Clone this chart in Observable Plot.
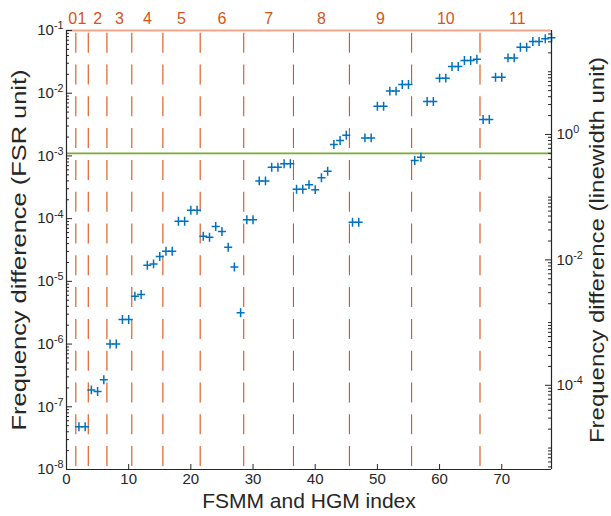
<!DOCTYPE html>
<html><head><meta charset="utf-8">
<script src="https://cdn.jsdelivr.net/npm/d3@7"></script>
<script src="https://cdn.jsdelivr.net/npm/@observablehq/plot@0.6"></script>
<style>
body{margin:0;background:#fff}
#chart svg{font-family:"Liberation Sans",Arial,Helvetica,sans-serif;overflow:visible}
</style>
</head><body><div id="chart"></div>
<script>
// ---- data ----
const modeIndex = [2,3,4,5,6,7,8,9,10,11,12,13,14,15,16,17,18,19,20,21,22,23,24,25,26,27,28,29,30,31,32,33,34,35,36,37,38,39,40,41,42,43,44,45,46,47,48,49,50,51,52,53,54,55,56,57,58,59,60,61,62,63,64,65,66,67,68,69,70,71,72,73,74,75,76,77,78];
const fsrDiff = [
  4.8e-8, 4.8e-8,
  1.86e-7, 1.75e-7, 2.69e-7,
  1.0e-6, 1.0e-6, 2.46e-6, 2.46e-6,
  5.8e-6, 6.17e-6, 1.81e-5, 1.9e-5, 2.49e-5,
  3.03e-5, 3.03e-5, 9.1e-5, 9.1e-5, 1.36e-4, 1.36e-4,
  5.25e-5, 5.06e-5, 7.48e-5, 6.24e-5, 3.51e-5, 1.70e-5, 3.15e-6,
  9.57e-5, 9.57e-5, 4.0e-4, 4.0e-4, 6.6e-4, 6.6e-4, 7.48e-4, 7.48e-4,
  2.94e-4, 2.94e-4, 3.46e-4, 2.9e-4, 4.48e-4, 5.7e-4, 1.52e-3, 1.76e-3, 2.14e-3,
  8.77e-5, 8.77e-5, 1.94e-3, 1.94e-3, 6.2e-3, 6.2e-3, 1.08e-2, 1.08e-2, 1.38e-2, 1.38e-2,
  8.45e-4, 9.55e-4, 7.38e-3, 7.38e-3, 1.74e-2, 1.74e-2, 2.67e-2, 2.67e-2, 3.33e-2, 3.33e-2, 3.48e-2,
  3.81e-3, 3.81e-3, 1.80e-2, 1.80e-2, 3.66e-2, 3.66e-2, 5.42e-2, 5.42e-2, 6.68e-2, 6.68e-2, 7.36e-2, 7.64e-2
];
const groupLabels = ["0","1","2","3","4","5","6","7","8","9","10","11"];
const groupCenters = [1, 2.5, 5, 8.5, 13, 18.5, 25, 32.5, 41, 50.5, 61, 72.5];
const groupBoundaries = [1.5, 3.5, 6.5, 10.5, 15.5, 21.5, 28.5, 36.5, 45.5, 55.5, 66.5];
const xTicks = [0, 10, 20, 30, 40, 50, 60, 70];
const leftTickExps = [-1, -2, -3, -4, -5, -6, -7, -8];
const rightLabelExps = [0, -2, -4];
const linewidthInFSR = 2.2e-3;     // 1 linewidth expressed in FSR units
const thresholdLinewidth = 0.5;    // green line, in linewidth units
const xDomain = [0, 78];
const yDomain = [1e-8, 1e-1];

// ---- layout ----
const W = 611, H = 516, mL = 66, mR = 60, mT = 30, mB = 47;
const fW = W - mL - mR, fH = H - mT - mB;
const blue = "#0072BD", orange = "#D95319", green = "#77AC30", ink = "#262626";

const points = modeIndex.map((x, i) => ({x, y: fsrDiff[i]}));
const leftMajor = leftTickExps.map(e => Math.pow(10, e));
const leftMinor = [];
for (let e = -8; e < -1; e++) for (let m = 2; m <= 9; m++) leftMinor.push(m * Math.pow(10, e));
const rightMajor = [], rightMinor = [];
for (let e = -6; e <= 1; e++) {
  const v = Math.pow(10, e) * linewidthInFSR;
  if (e % 2 === 0) rightMajor.push(v); else rightMinor.push(v);
  for (let m = 2; m <= 9; m++) rightMinor.push(m * Math.pow(10, e) * linewidthInFSR);
}
const inY = v => v >= yDomain[0] * 0.9999 && v <= yDomain[1] * 1.0001;

// MATLAB-like "+" marker
const plusSymbol = {
  draw(ctx, size) {
    const r = Math.sqrt(size / Math.PI);
    ctx.moveTo(-r, 0); ctx.lineTo(r, 0);
    ctx.moveTo(0, -r * 1.12); ctx.lineTo(0, r * 1.12);
  }
};

const chart = Plot.plot({
  width: W, height: H,
  marginLeft: mL, marginRight: mR, marginTop: mT, marginBottom: mB,
  x: {domain: xDomain, axis: null},
  y: {type: "log", domain: yDomain, axis: null},
  marks: [
    Plot.ruleX(groupBoundaries, {x: d => d, stroke: orange, strokeWidth: 1.1, strokeDasharray: "20,11.8", strokeDashoffset: 29.1}),
    Plot.ruleY([thresholdLinewidth * linewidthInFSR], {y: d => d, stroke: green, strokeWidth: 1.6}),
    Plot.dot(points, {x: "x", y: "y", symbol: plusSymbol, r: 4, fill: "none", stroke: blue, strokeWidth: 1.5}),
    // frame
    Plot.ruleY([yDomain[1]], {y: d => d, stroke: "#F2A78C", strokeWidth: 1.8}),
    Plot.ruleX([xDomain[0]], {x: d => d, stroke: ink, strokeWidth: 1.2}),
    Plot.ruleX([xDomain[1]], {x: d => d, stroke: ink, strokeWidth: 1.2}),
    Plot.ruleY([yDomain[0]], {y: d => d, stroke: ink, strokeWidth: 1.2}),
    // left ticks (inward)
    Plot.tickY(leftMajor, {y: d => d, stroke: ink, insetRight: fW - 6}),
    Plot.tickY(leftMinor, {y: d => d, stroke: ink, insetRight: fW - 3}),
    // right ticks (inward)
    Plot.tickY(rightMajor.filter(inY), {y: d => d, stroke: ink, insetLeft: fW - 6}),
    Plot.tickY(rightMinor.filter(inY), {y: d => d, stroke: ink, insetLeft: fW - 3}),
    // bottom ticks (inward)
    Plot.tickX(xTicks, {x: d => d, stroke: ink, insetTop: fH - 5}),
    // tick labels
    Plot.text(leftTickExps, {y: d => Math.pow(10, d), text: d => "10^" + d, frameAnchor: "left", textAnchor: "end", dx: -3, fontSize: 15, fill: ink}),
    Plot.text(rightLabelExps, {y: d => Math.pow(10, d) * linewidthInFSR, text: d => "10^" + d, frameAnchor: "right", textAnchor: "start", dx: 5, fontSize: 15, fill: ink}),
    Plot.text(xTicks, {x: d => d, text: d => String(d), frameAnchor: "bottom", dy: 14, fontSize: 15, fill: ink}),
    Plot.text(groupLabels, {x: (d, i) => groupCenters[i], text: d => d, frameAnchor: "top", dy: -18, fontSize: 16, fill: orange}),
    // axis titles
    Plot.text(["Frequency difference (FSR unit)"], {frameAnchor: "left", textAnchor: "middle", dx: -47, rotate: -90, fontSize: 20, fill: ink, className: "ttl-left"}),
    Plot.text(["Frequency difference (linewidth unit)"], {frameAnchor: "right", textAnchor: "middle", dx: 46, rotate: -90, fontSize: 20, fill: ink, className: "ttl-right"}),
    Plot.text(["FSMM and HGM index"], {frameAnchor: "bottom", textAnchor: "middle", dy: 38, fontSize: 21, fill: ink})
  ]
});

// superscript exponents
d3.select(chart).selectAll("text").each(function() {
  const m = this.textContent.match(/^10\^(-?\d+)$/);
  if (m) {
    const t = d3.select(this);
    t.text("10");
    t.append("tspan").attr("dy", "-0.55em").attr("font-size", "0.72em").text(m[1]);
  }
});
// the reference's vertical titles are stretched along their length
d3.select(chart).selectAll("g.ttl-left text").attr("transform", function() {
  return (this.getAttribute("transform") || "") + " scale(1.27,1)";
});
d3.select(chart).selectAll("g.ttl-right text").attr("transform", function() {
  return (this.getAttribute("transform") || "") + " scale(1.2,1)";
});
document.getElementById("chart").appendChild(chart);
</script>
</body></html>
